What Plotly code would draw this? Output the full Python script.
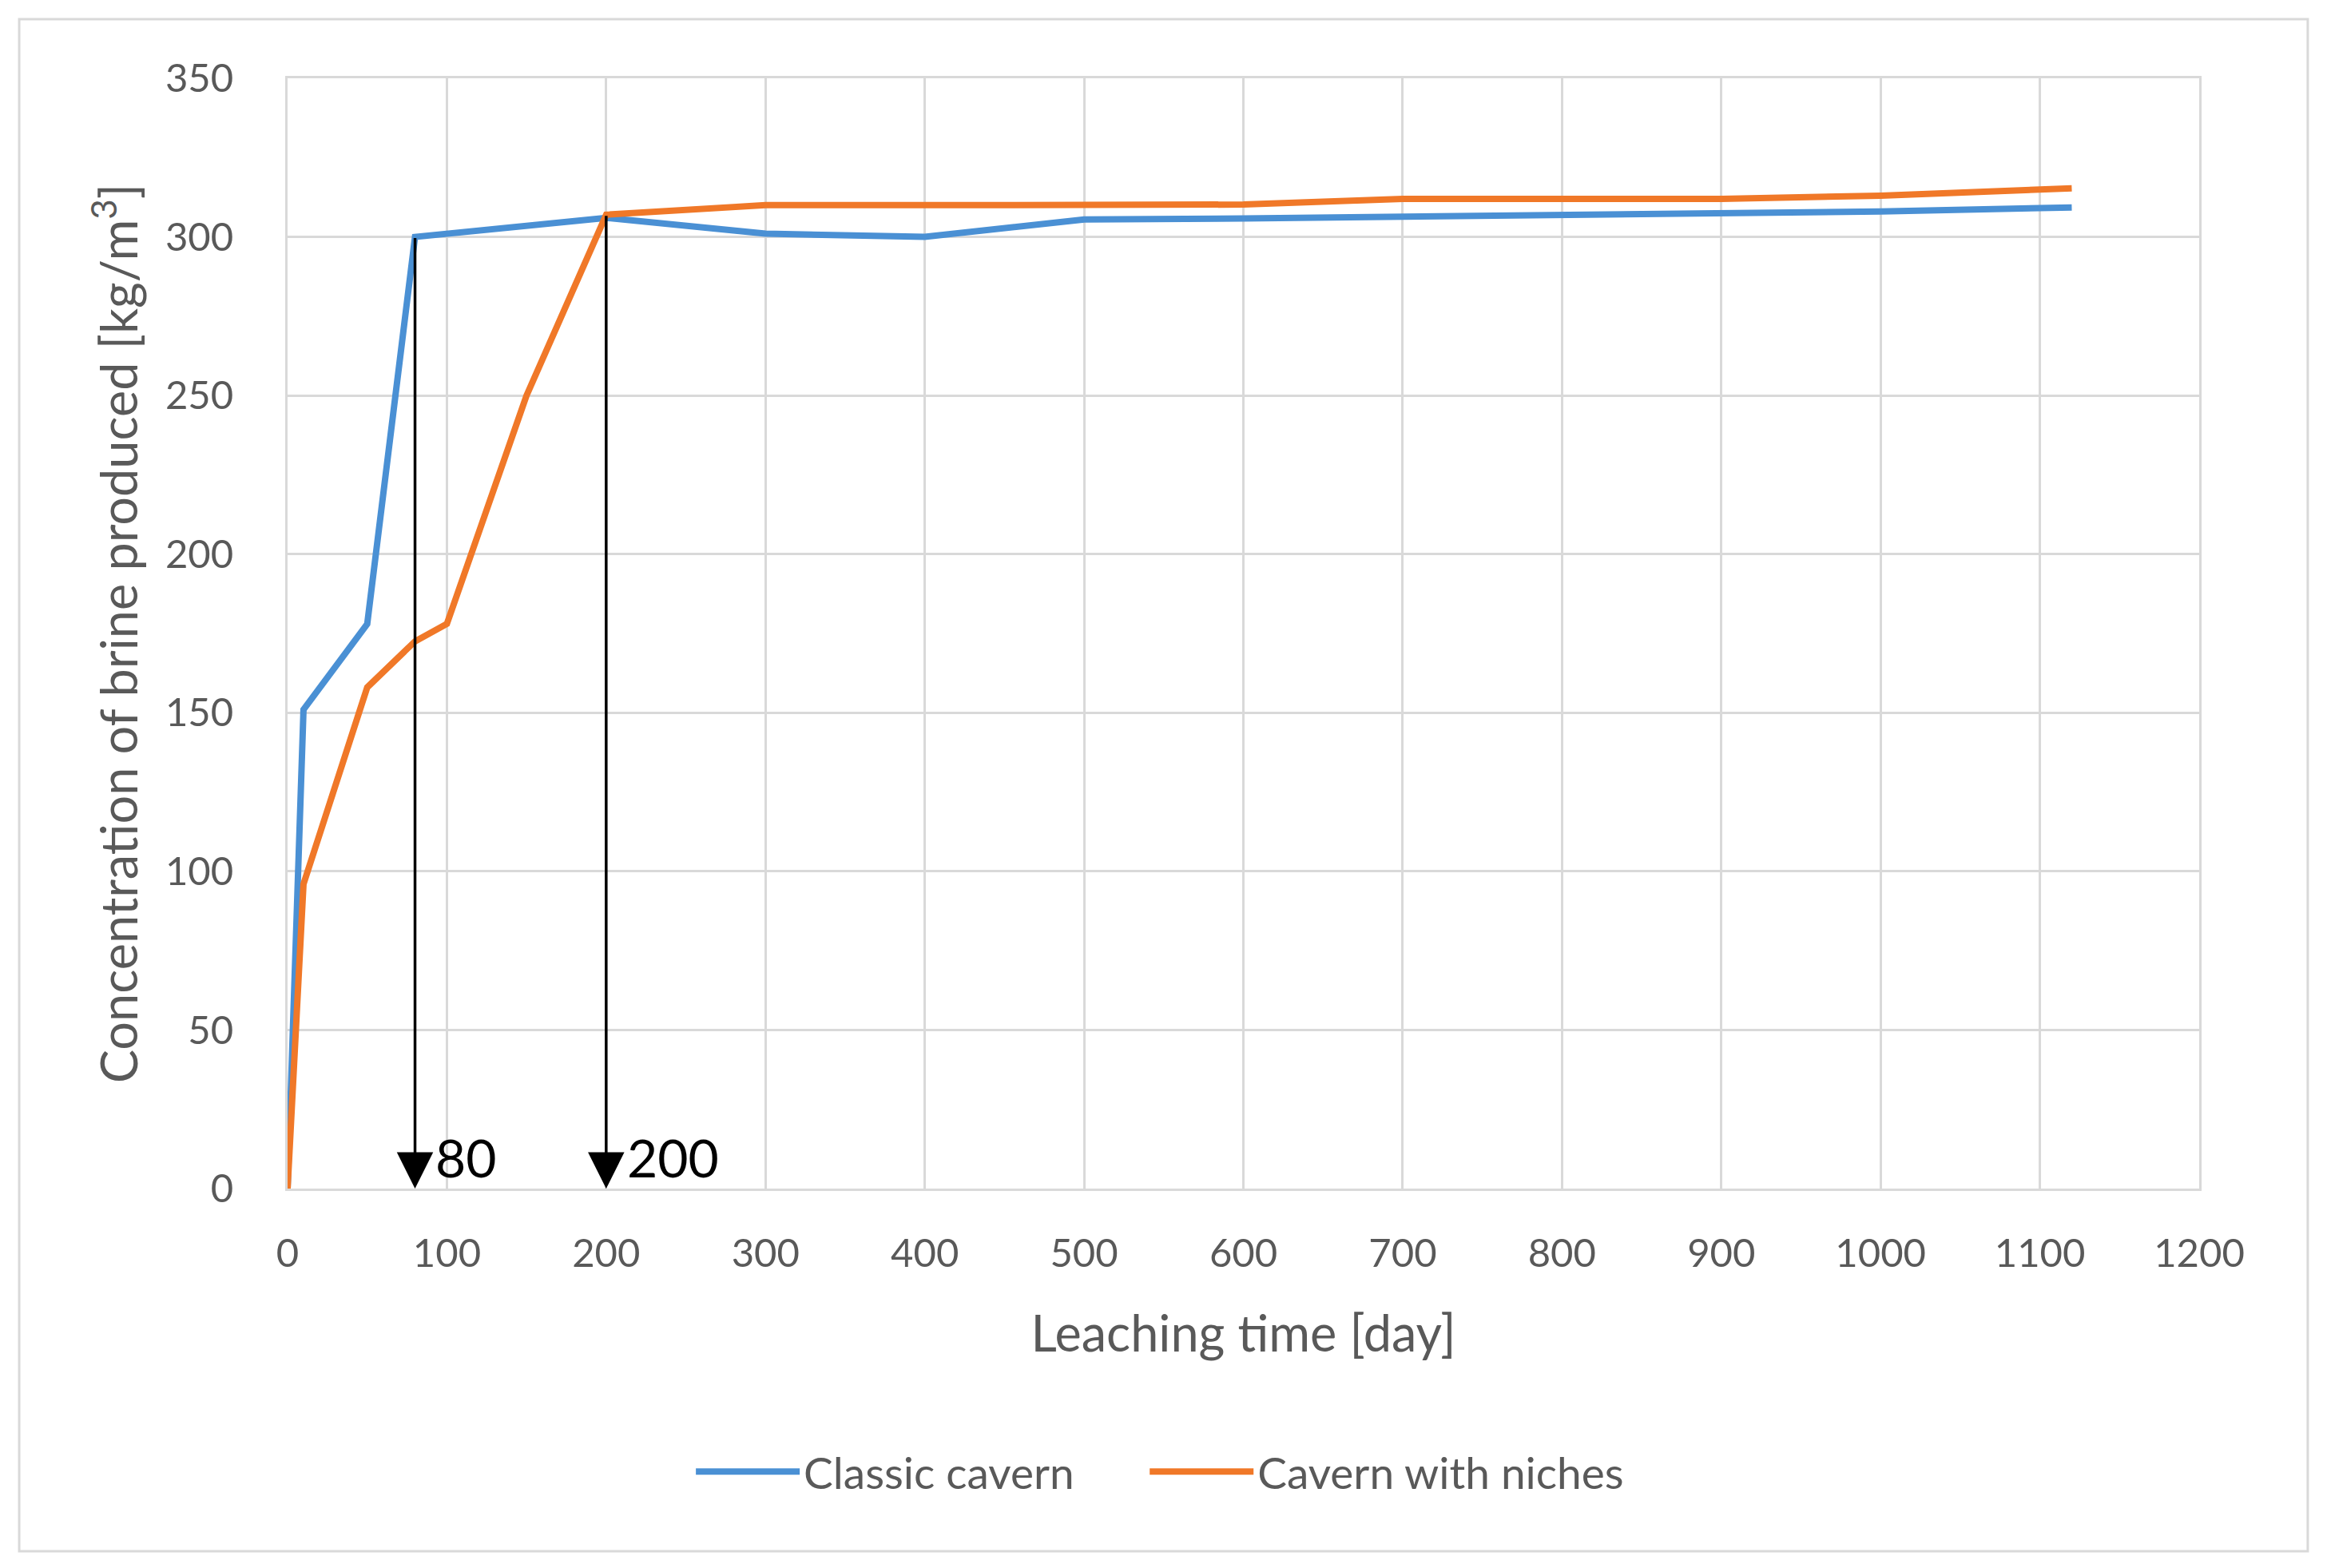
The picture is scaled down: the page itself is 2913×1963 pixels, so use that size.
import plotly.graph_objects as go

# ---------- Data ----------
classic_days = [0, 10, 50, 80, 200, 300, 400, 500, 600, 700, 800, 900, 1000, 1120]
classic_conc = [0, 151, 178, 300, 306, 301, 300, 305.5, 305.8, 306.3, 307, 307.8, 308, 309.3]

niches_days = [0, 10, 50, 80, 100, 150, 200, 300, 400, 500, 600, 700, 800, 900, 1000, 1120]
niches_conc = [0, 96, 158, 172.5, 178, 250, 307, 310, 310, 310, 310.2, 312, 312, 312, 313, 315.3]

marker_days = [80, 200]
marker_tops = [300, 307]
marker_labels = ["80", "200"]

BLUE = "#4A90D4"
ORANGE = "#F07828"
GRID = "#D9D9D9"
TICK = "#595959"
FONT = "Lato, 'Open Sans', sans-serif"

fig = go.Figure()

# trailing non-breaking spaces widen the gap between legend entries
fig.add_trace(go.Scatter(
    x=classic_days, y=classic_conc, mode="lines",
    name="Classic cavern" + "\u00a0" * 6,
    line=dict(color=BLUE, width=8)
))
fig.add_trace(go.Scatter(
    x=niches_days, y=niches_conc, mode="lines", name="Cavern with niches",
    line=dict(color=ORANGE, width=8)
))

# vertical arrows marking the time to reach saturation
for d, top, lab in zip(marker_days, marker_tops, marker_labels):
    fig.add_annotation(
        x=d, y=0, ax=d, ay=top, xref="x", yref="y", axref="x", ayref="y",
        showarrow=True, arrowhead=2, arrowsize=2.6, arrowwidth=3.5,
        arrowcolor="black", text=""
    )
    fig.add_annotation(
        x=d + 12, y=10, xref="x", yref="y", text=lab, showarrow=False,
        xanchor="left", yanchor="middle",
        font=dict(family=FONT, size=66, color="black")
    )

# outer chart border
fig.add_shape(
    type="rect", xref="paper", yref="paper",
    x0=-0.1404, x1=1.0568, y0=-0.3266, y1=1.0532,
    line=dict(color=GRID, width=3), layer="below"
)

fig.update_layout(
    width=2913, height=1963,
    margin=dict(l=352, r=168, t=90, b=483),
    paper_bgcolor="white", plot_bgcolor="white",
    font=dict(family=FONT, size=50, color=TICK),
    showlegend=True,
    legend=dict(
        orientation="h", x=0.2115, y=-0.255, xanchor="left", yanchor="middle",
        font=dict(family=FONT, size=55, color=TICK),
        itemwidth=130
    ),
    xaxis=dict(
        range=[0, 1200], dtick=100, showgrid=True, gridcolor=GRID, gridwidth=3,
        zeroline=False, showline=True, linecolor=GRID, linewidth=3, mirror=True,
        ticks="", tickfont=dict(size=49, color=TICK), ticklabelstandoff=36,
        title=dict(text="Leaching time [day]", font=dict(size=63, color=TICK), standoff=54)
    ),
    yaxis=dict(
        range=[0, 350], dtick=50, showgrid=True, gridcolor=GRID, gridwidth=3,
        zeroline=False, showline=True, linecolor=GRID, linewidth=3, mirror=True,
        ticks="", tickfont=dict(size=49, color=TICK), ticklabelstandoff=55,
        title=dict(text="Concentration of brine produced [kg/m<sup>3</sup>]",
                   font=dict(size=63, color=TICK), standoff=14)
    ),
)

fig.write_html("out.html")
